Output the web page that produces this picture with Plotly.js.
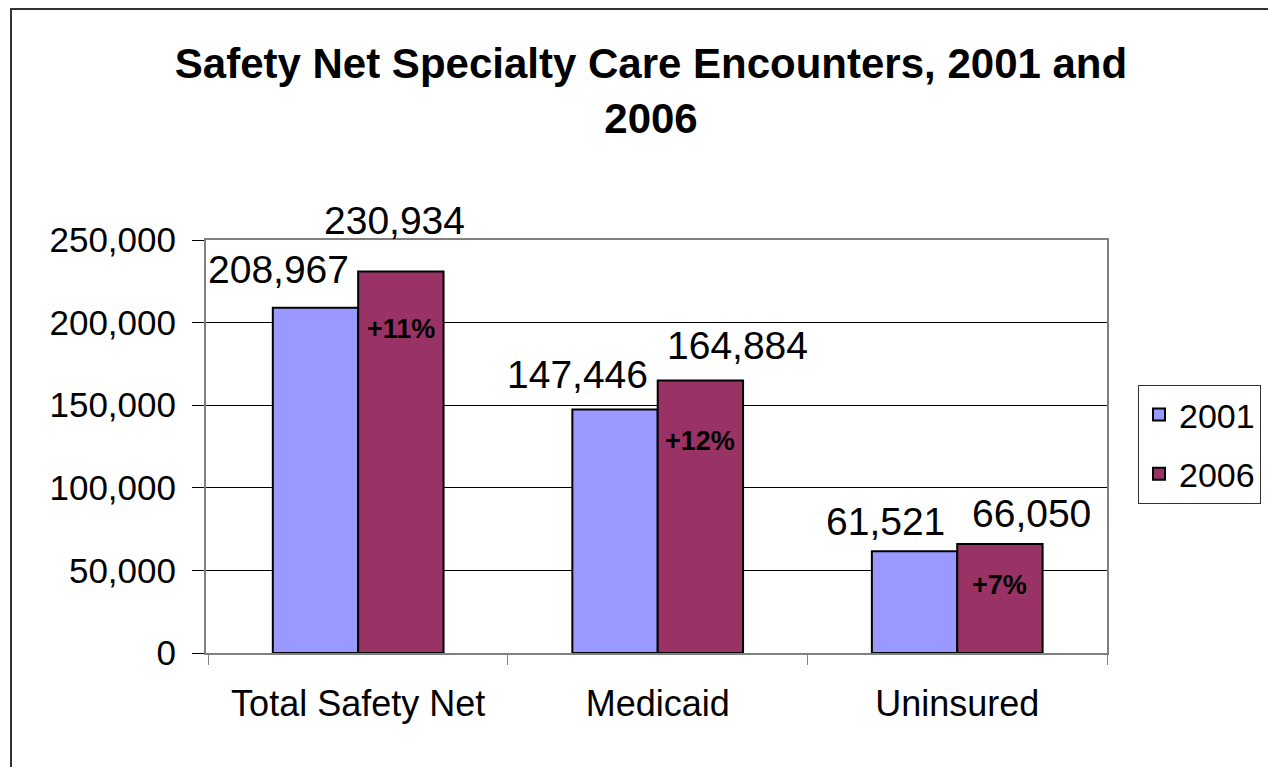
<!DOCTYPE html>
<html>
<head>
<meta charset="utf-8">
<script src="https://cdn.plot.ly/plotly-3.0.1.min.js"></script>
<style>
  html, body { margin: 0; padding: 0; background: #fff; }
  #chart { width: 1268px; height: 767px; }
</style>
</head>
<body>
<div id="chart"></div>
<script>
// ---- data ----
const categories = ['Total Safety Net', 'Medicaid', 'Uninsured'];
const seriesNames = ['2001', '2006'];
const values2001 = [208967, 147446, 61521];
const values2006 = [230934, 164884, 66050];
const changeLabels = ['+11%', '+12%', '+7%'];
const yTickVals = [0, 50000, 100000, 150000, 200000, 250000];
const chartTitle = 'Safety Net Specialty Care Encounters, 2001 and<br>2006';

// ---- style ----
const FONT = 'Liberation Sans, Arial, Helvetica, sans-serif';
const colors = ['#9999FF', '#993366'];
const BARGAP = 0.43;
// pixel nudges of the value labels (as placed in the original)
const nudge2001 = [[-37, 15], [-38, 11], [-29, 6]];
const nudge2006 = [[-6, 28], [37, 12], [32, 7]];
const pctDrop = [-57, -60, -41];

const W = 1268, H = 767;
const M = { l: 206, r: 161, t: 240, b: 114 };
const PW = W - M.l - M.r, PH = H - M.t - M.b;

const fmt = v => v.toLocaleString('en-US');
const off = (1 - BARGAP) / 4;

const traces = [values2001, values2006].map((vals, k) => ({
  type: 'bar',
  name: seriesNames[k],
  x: categories,
  y: vals,
  legendgroup: 'g' + k,
  marker: { color: colors[k], line: { color: '#000', width: 2 } },
  hoverinfo: 'x+y+name'
}));

const annotations = [];
categories.forEach((c, i) => {
  annotations.push({
    x: i - off, y: values2001[i], xref: 'x', yref: 'y',
    text: fmt(values2001[i]), showarrow: false, yanchor: 'bottom',
    xshift: nudge2001[i][0], yshift: nudge2001[i][1],
    font: { family: FONT, size: 39, color: '#000' }
  });
  annotations.push({
    x: i + off, y: values2006[i], xref: 'x', yref: 'y',
    text: fmt(values2006[i]), showarrow: false, yanchor: 'bottom',
    xshift: nudge2006[i][0], yshift: nudge2006[i][1],
    font: { family: FONT, size: 39, color: '#000' }
  });
  annotations.push({
    x: i + off, y: values2006[i], xref: 'x', yref: 'y',
    text: '<b>' + changeLabels[i] + '</b>', showarrow: false, yanchor: 'middle',
    yshift: pctDrop[i],
    font: { family: FONT, size: 27, color: '#000' }
  });
});

const layout = {
  width: W, height: H,
  margin: { l: M.l, r: M.r, t: M.t, b: M.b, autoexpand: false },
  paper_bgcolor: '#fff', plot_bgcolor: '#fff',
  font: { family: FONT, color: '#000' },
  title: {
    text: '<b>' + chartTitle + '</b>',
    font: { family: FONT, size: 42, color: '#000' },
    xref: 'container', yref: 'container',
    x: 651 / W, xanchor: 'center',
    y: 1 - 78 / H, yanchor: 'top'
  },
  barmode: 'group',
  bargap: BARGAP,
  bargroupgap: 0,
  showlegend: true,
  legend: {
    x: (1138 - M.l) / PW, y: (H - M.b - 385) / PH,
    xanchor: 'left', yanchor: 'top',
    font: { family: FONT, size: 34, color: '#000' },
    bordercolor: '#333', borderwidth: 1, bgcolor: '#fff',
    traceorder: 'grouped', tracegroupgap: 12
  },
  xaxis: {
    type: 'category',
    showline: true, linecolor: '#808080', linewidth: 2, mirror: true,
    ticks: 'outside', tickson: 'boundaries', ticklen: 10, tickcolor: '#808080', tickwidth: 1,
    ticklabelstandoff: 18,
    tickfont: { family: FONT, size: 36, color: '#000' },
    showgrid: false, zeroline: false, fixedrange: true
  },
  yaxis: {
    range: [0, 250000],
    tickvals: yTickVals,
    tickformat: ',',
    showline: true, linecolor: '#808080', linewidth: 2, mirror: true,
    ticks: 'outside', ticklen: 12, tickcolor: '#000', tickwidth: 1,
    ticklabelstandoff: 9,
    tickfont: { family: FONT, size: 35, color: '#000' },
    showgrid: true, gridcolor: '#000', gridwidth: 1,
    zeroline: false, fixedrange: true
  },
  annotations: annotations,
  shapes: [{
    type: 'rect', xref: 'paper', yref: 'paper', layer: 'below',
    x0: (11 - M.l) / PW, x1: (W + 50 - M.l) / PW,
    y0: (H - M.b - (H + 50)) / PH, y1: (H - M.b - 9) / PH,
    line: { color: '#333', width: 2 }, fillcolor: 'rgba(0,0,0,0)'
  }]
};

Plotly.newPlot('chart', traces, layout, { displayModeBar: false, staticPlot: false });
</script>
</body>
</html>
